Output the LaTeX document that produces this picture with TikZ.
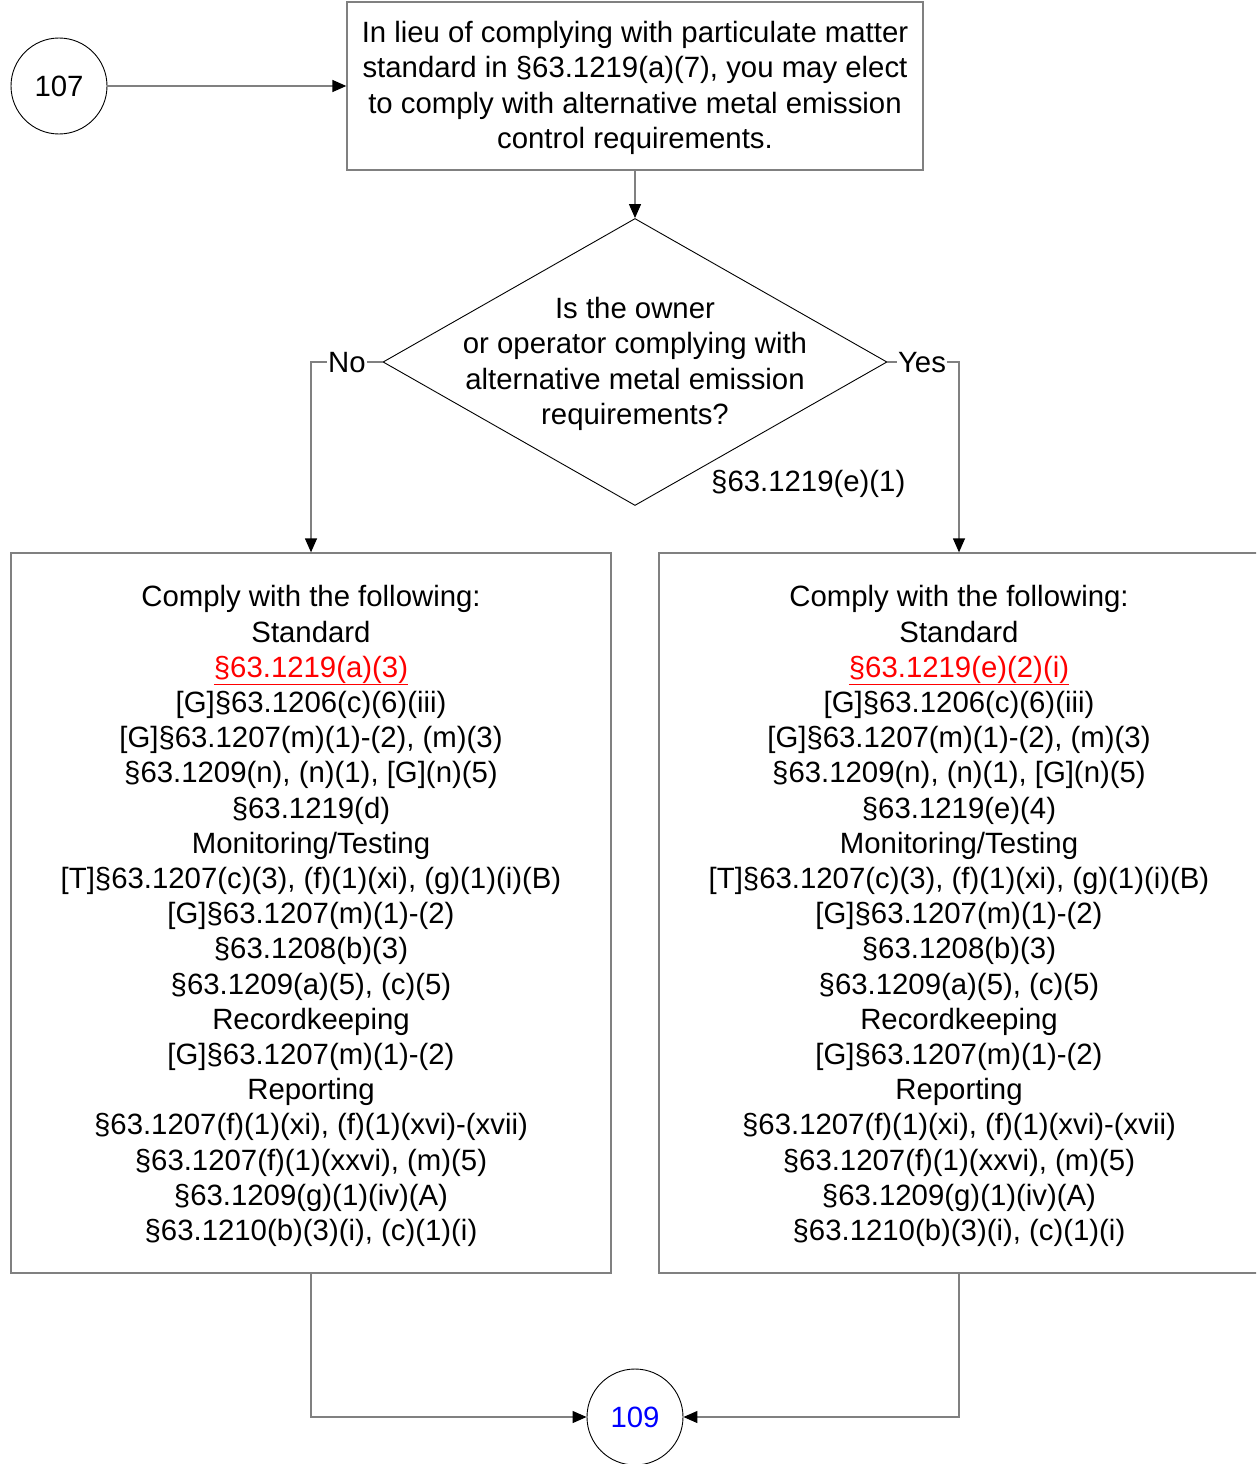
\documentclass[tikz,border=0pt]{standalone}
\usepackage{fontspec}
\setmainfont{Liberation Sans}
\usetikzlibrary{shapes.geometric,arrows.meta}
\definecolor{linegray}{HTML}{808080}
\definecolor{linkred}{HTML}{FF0000}
\definecolor{linkblue}{HTML}{0000FF}
\newcommand{\reflink}[1]{\textcolor{linkred}{\underline{#1}}}
\tikzset{
  txt/.style={font=\fontsize{29.35}{35.2}\selectfont, align=center, inner sep=0pt},
  procbox/.style={draw=linegray, line width=1.3pt, rectangle, inner sep=0pt},
  conn/.style={draw=linegray, line width=1.3pt, -{Triangle[length=14pt,width=12pt,color=black]}},
  offpage/.style={draw=black, line width=0.9pt, circle, minimum size=96pt, inner sep=0pt, font=\fontsize{29.35}{35.2}\selectfont},
  decision/.style={draw=black, line width=0.9pt, diamond, minimum width=504pt, minimum height=287pt, inner sep=0pt},
  edgelabel/.style={font=\fontsize{29.35}{35.2}\selectfont, fill=white, inner sep=1pt}
}
\begin{document}
\begin{tikzpicture}[x=1pt,y=-1pt]
\clip (0,0) rectangle (1256,1464);
\useasboundingbox (0,0) rectangle (1256,1464);

\node[offpage] (c107) at (59,86) {107};
\node[procbox, minimum width=576pt, minimum height=168pt] (top) at (635,86) {};
\node[txt] (toptxt) at (635,88) {In lieu of complying with particulate matter\\standard in §63.1219(a)(7), you may elect\\to comply with alternative metal emission\\control requirements.};

\node[decision] (dia) at (635,362) {};
\node[txt] (diatxt) at (635,364) {Is the owner\\or operator complying with\\alternative metal emission\\requirements?};
\node[txt, anchor=west] (cite) at (711,484) {§63.1219(e)(1)};

\node[procbox, minimum width=600pt, minimum height=720pt] (lbox) at (311,913) {};
\node[procbox, minimum width=600pt, minimum height=720pt] (rbox) at (959,913) {};

\node[txt] (ltxt) at (311,916) {Comply with the following:\\Standard\\\reflink{§63.1219(a)(3)}\\{[G]}§63.1206(c)(6)(iii)\\{[G]}§63.1207(m)(1)-(2), (m)(3)\\§63.1209(n), (n)(1), [G](n)(5)\\§63.1219(d)\\Monitoring/Testing\\{[T]}§63.1207(c)(3), (f)(1)(xi), (g)(1)(i)(B)\\{[G]}§63.1207(m)(1)-(2)\\§63.1208(b)(3)\\§63.1209(a)(5), (c)(5)\\Recordkeeping\\{[G]}§63.1207(m)(1)-(2)\\Reporting\\§63.1207(f)(1)(xi), (f)(1)(xvi)-(xvii)\\§63.1207(f)(1)(xxvi), (m)(5)\\§63.1209(g)(1)(iv)(A)\\§63.1210(b)(3)(i), (c)(1)(i)};
\node[txt] (rtxt) at (959,916) {Comply with the following:\\Standard\\\reflink{§63.1219(e)(2)(i)}\\{[G]}§63.1206(c)(6)(iii)\\{[G]}§63.1207(m)(1)-(2), (m)(3)\\§63.1209(n), (n)(1), [G](n)(5)\\§63.1219(e)(4)\\Monitoring/Testing\\{[T]}§63.1207(c)(3), (f)(1)(xi), (g)(1)(i)(B)\\{[G]}§63.1207(m)(1)-(2)\\§63.1208(b)(3)\\§63.1209(a)(5), (c)(5)\\Recordkeeping\\{[G]}§63.1207(m)(1)-(2)\\Reporting\\§63.1207(f)(1)(xi), (f)(1)(xvi)-(xvii)\\§63.1207(f)(1)(xxvi), (m)(5)\\§63.1209(g)(1)(iv)(A)\\§63.1210(b)(3)(i), (c)(1)(i)};

\node[offpage, text=linkblue] (c109) at (635,1417) {109};

\draw[conn] (c107.east) -- (top.west |- c107.east);
\draw[conn] (top.south) -- (dia.north);
\draw[conn] (dia.west) -| (lbox.north);
\draw[conn] (dia.east) -| (rbox.north);
\node[edgelabel] (nolab) at (347,363) {No};
\node[edgelabel] (yeslab) at (922,363) {Yes};
\draw[conn] (lbox.south) |- (c109.west);
\draw[conn] (rbox.south) |- (c109.east);
\end{tikzpicture}
\end{document}
